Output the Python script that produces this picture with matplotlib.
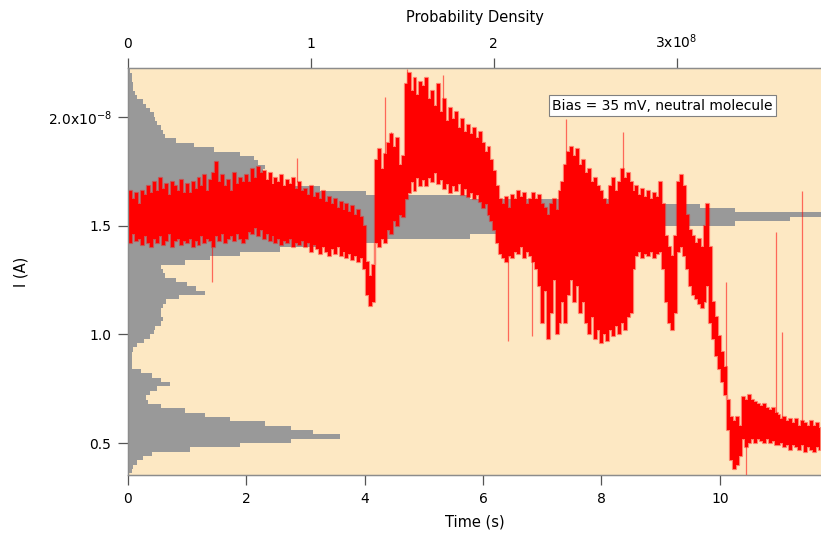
import numpy as np
import matplotlib.pyplot as plt

# histogram of current (probability density, x1e8), 0.02e-8 A bins starting at 0.36e-8
hist_start = 0.36
hist_width = 0.02
hist_density = [
    0.02, 0.03, 0.05, 0.08, 0.13, 0.34, 0.61, 0.89, 1.16, 1.01,
    0.89, 0.75, 0.56, 0.42, 0.31, 0.18, 0.11, 0.10, 0.12, 0.16,
    0.23, 0.18, 0.13, 0.07, 0.02, 0.02, 0.02, 0.02, 0.03, 0.05,
    0.09, 0.12, 0.14, 0.15, 0.18, 0.19, 0.18, 0.18, 0.19, 0.21,
    0.28, 0.42, 0.37, 0.32, 0.26, 0.20, 0.19, 0.18, 0.31, 0.45,
    0.61, 0.83, 1.11, 1.38, 1.87, 2.26, 2.80, 3.32, 3.62, 4.30,
    3.32, 3.13, 2.69, 1.87, 1.30, 1.05, 0.78, 0.75, 0.75, 0.74,
    0.75, 0.71, 0.69, 0.61, 0.47, 0.36, 0.26, 0.20, 0.19, 0.18,
    0.16, 0.15, 0.14, 0.12, 0.10, 0.08, 0.05, 0.04, 0.03, 0.03,
    0.02, 0.02, 0.01, 0.01,
]

# current trace envelope (x1e-8 A), read every 0.05 s, one row per second
trace_step = 0.05
trace_hi = [
    1.63, 1.66, 1.62, 1.65, 1.60, 1.66, 1.64, 1.68, 1.65, 1.70, 1.66, 1.72, 1.67, 1.69, 1.64, 1.70, 1.68, 1.66, 1.71, 1.65,
    1.69, 1.65, 1.70, 1.67, 1.72, 1.68, 1.73, 1.66, 1.71, 1.74, 1.79, 1.70, 1.73, 1.68, 1.71, 1.66, 1.74, 1.69, 1.72, 1.70,
    1.73, 1.70, 1.76, 1.72, 1.77, 1.74, 1.75, 1.71, 1.74, 1.69, 1.72, 1.70, 1.73, 1.68, 1.71, 1.69, 1.72, 1.67, 1.70, 1.66,
    1.67, 1.64, 1.68, 1.63, 1.65, 1.62, 1.66, 1.61, 1.63, 1.60, 1.62, 1.58, 1.61, 1.57, 1.60, 1.56, 1.59, 1.55, 1.57, 1.54,
    1.50, 1.33, 1.27, 1.32, 1.80, 1.85, 1.76, 1.83, 1.88, 1.92, 1.86, 1.90, 1.78, 1.82, 2.15, 2.20, 2.12, 2.18, 2.10, 2.16,
    2.14, 2.18, 2.08, 2.12, 2.05, 2.15, 2.02, 2.08, 1.98, 2.04, 1.99, 2.02, 1.95, 1.99, 1.93, 1.96, 1.92, 1.95, 1.90, 1.93,
    1.88, 1.84, 1.86, 1.80, 1.75, 1.68, 1.62, 1.60, 1.63, 1.58, 1.64, 1.62, 1.66, 1.63, 1.65, 1.60, 1.62, 1.65, 1.62, 1.64,
    1.60, 1.58, 1.55, 1.60, 1.62, 1.57, 1.66, 1.70, 1.78, 1.84, 1.86, 1.82, 1.85, 1.78, 1.80, 1.74, 1.76, 1.70, 1.72, 1.68,
    1.66, 1.62, 1.60, 1.68, 1.72, 1.66, 1.70, 1.76, 1.72, 1.74, 1.70, 1.66, 1.68, 1.64, 1.67, 1.63, 1.66, 1.62, 1.65, 1.63,
    1.70, 1.60, 1.45, 1.40, 1.36, 1.45, 1.70, 1.73, 1.68, 1.55, 1.48, 1.45, 1.42, 1.44, 1.40, 1.50, 1.60, 1.40, 1.15, 1.08,
    0.99, 0.92, 0.85, 0.70, 0.62, 0.60, 0.62, 0.58, 0.71, 0.70, 0.72, 0.70, 0.69, 0.68, 0.67, 0.68, 0.66, 0.65, 0.66, 0.64,
    0.63, 0.61, 0.62, 0.60, 0.61, 0.59, 0.61, 0.58, 0.60, 0.59, 0.58, 0.60, 0.58, 0.59, 0.57,
]
trace_lo = [
    1.45, 1.42, 1.46, 1.43, 1.44, 1.41, 1.45, 1.42, 1.40, 1.44, 1.42, 1.45, 1.41, 1.43, 1.46, 1.40, 1.43, 1.44, 1.41, 1.43,
    1.42, 1.44, 1.40, 1.43, 1.41, 1.45, 1.42, 1.44, 1.43, 1.40, 1.45, 1.43, 1.46, 1.42, 1.44, 1.45, 1.43, 1.46, 1.44, 1.42,
    1.44, 1.47, 1.46, 1.49, 1.45, 1.48, 1.44, 1.46, 1.43, 1.45, 1.42, 1.44, 1.41, 1.43, 1.42, 1.44, 1.40, 1.42, 1.41, 1.43,
    1.40, 1.42, 1.38, 1.41, 1.39, 1.37, 1.40, 1.38, 1.36, 1.39, 1.37, 1.40, 1.36, 1.38, 1.35, 1.37, 1.34, 1.36, 1.33, 1.35,
    1.30, 1.18, 1.13, 1.15, 1.42, 1.40, 1.44, 1.42, 1.48, 1.46, 1.52, 1.50, 1.55, 1.54, 1.62, 1.65, 1.70, 1.66, 1.72, 1.68,
    1.71, 1.68, 1.72, 1.70, 1.74, 1.69, 1.71, 1.67, 1.69, 1.65, 1.68, 1.66, 1.69, 1.64, 1.67, 1.63, 1.65, 1.62, 1.64, 1.61,
    1.58, 1.60, 1.55, 1.52, 1.48, 1.42, 1.37, 1.35, 1.33, 1.36, 1.35, 1.38, 1.37, 1.40, 1.35, 1.38, 1.36, 1.33, 1.30, 1.22,
    1.05, 1.20, 0.98, 1.10, 1.25, 1.00, 1.05, 1.15, 1.05, 1.18, 1.25, 1.15, 1.22, 1.10, 1.15, 1.05, 1.00, 1.08, 0.98, 1.02,
    0.96, 1.00, 0.97, 1.02, 0.99, 1.04, 1.00, 1.05, 1.02, 1.08, 1.10, 1.30, 1.36, 1.38, 1.35, 1.37, 1.36, 1.38, 1.35, 1.37,
    1.38, 1.30, 1.15, 1.05, 1.02, 1.10, 1.38, 1.40, 1.36, 1.30, 1.22, 1.18, 1.16, 1.14, 1.12, 1.15, 1.22, 1.05, 0.98, 0.90,
    0.84, 0.78, 0.72, 0.56, 0.42, 0.38, 0.40, 0.44, 0.52, 0.48, 0.50, 0.52, 0.50, 0.52, 0.51, 0.50, 0.52, 0.50, 0.51, 0.49,
    0.49, 0.50, 0.48, 0.49, 0.47, 0.49, 0.48, 0.47, 0.49, 0.46, 0.48, 0.47, 0.46, 0.48, 0.47,
]

# isolated spikes: time, start, end (x1e-8 A)
spike_t = [1.42, 1.48, 2.86, 4.34, 4.45, 4.72, 5.33, 6.42, 6.83, 7.40, 8.36, 10.10, 10.45, 10.95, 11.05, 11.39]
spike_from = [1.40, 1.70, 1.70, 1.70, 1.70, 2.00, 2.00, 1.40, 1.40, 1.60, 1.60, 0.75, 0.50, 0.58, 0.58, 0.58]
spike_to = [1.24, 1.79, 1.81, 2.09, 1.93, 2.22, 2.19, 0.97, 0.99, 1.99, 1.93, 1.24, 0.35, 1.47, 1.01, 1.66]

BG = '#fde8c3'
GRAY = '#999999'

fig = plt.figure(figsize=(8.21, 5.33), dpi=100)
ax_h = fig.add_axes([0.1559, 0.1088, 0.8441, 0.7636])
ax_t = ax_h.twiny()
ax_h.set_facecolor(BG)
ax_t.patch.set_visible(False)

edges = hist_start + hist_width * np.arange(len(hist_density) + 1)
ax_h.stairs(hist_density, edges, orientation='horizontal', fill=True, color=GRAY, baseline=0)
ax_h.set_xlim(0, 3.79)
ax_h.set_ylim(0.353, 2.224)
ax_h.xaxis.tick_top()
ax_h.xaxis.set_label_position('top')
ax_h.set_xticks([0, 1, 2, 3])
ax_h.set_xticklabels(['0', '1', '2', '3x10$^{8}$'])
ax_h.set_yticks([0.5, 1.0, 1.5, 2.0])
ax_h.set_yticklabels(['0.5', '1.0', '1.5', '2.0x10$^{-8}$'])
ax_h.set_xlabel('Probability Density', fontsize=10.5, labelpad=8)
ax_h.set_ylabel('I (A)', fontsize=10.5, labelpad=14)

ax_t.xaxis.tick_bottom()
ax_t.xaxis.set_label_position('bottom')
ax_t.set_xlim(0, 11.71)
ax_t.set_xticks([0, 2, 4, 6, 8, 10])
ax_t.set_xlabel('Time (s)', fontsize=10.5, labelpad=6)

# noisy trace: envelope per sample, with a softer rim like the anti-aliased original
t = trace_step * np.arange(len(trace_hi))
ax_t.fill_between(t, trace_lo, trace_hi, step='mid', color='red', alpha=0.45, lw=1.6, edgecolor='red')
ax_t.fill_between(t, trace_lo, trace_hi, step='mid', color='red', lw=0)
ax_t.vlines(spike_t, spike_from, spike_to, color='red', lw=0.9, alpha=0.55)

for a in (ax_h, ax_t):
    a.spines['right'].set_visible(False)
    for s in ('top', 'bottom', 'left'):
        a.spines[s].set_color('#8c8c8c')
        a.spines[s].set_linewidth(0.9)
    a.tick_params(direction='out', length=7, width=0.9, color='#555555', labelsize=10, pad=5)

ax_t.text(0.612, 0.907, 'Bias = 35 mV, neutral molecule', transform=ax_t.transAxes,
          ha='left', va='center', fontsize=10,
          bbox=dict(boxstyle='square,pad=0.25', fc='white', ec='#808080', lw=0.8))

fig.savefig('out.png', dpi=100)
